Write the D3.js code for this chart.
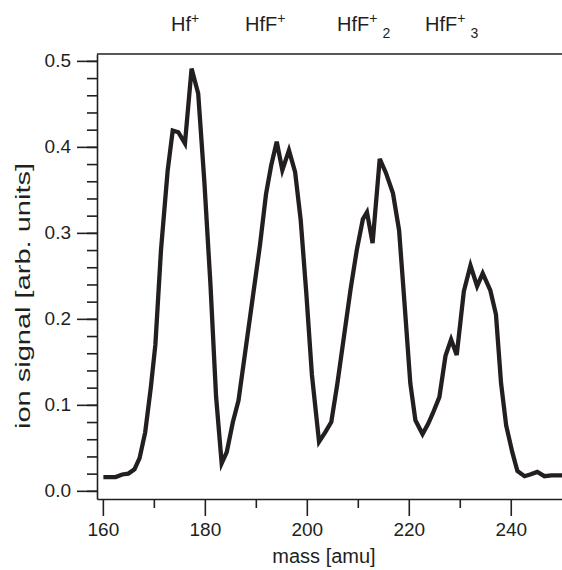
<!DOCTYPE html>
<html>
<head>
<meta charset="utf-8">
<script src="https://cdn.jsdelivr.net/npm/d3@7"></script>
<style>
  body { margin: 0; background: #fff; }
  text { font-family: "Liberation Sans", Arial, sans-serif; fill: #231f20; }
</style>
</head>
<body>
<div id="chart"></div>
<script>
/* DATA */
var mass = [160.1, 161.3, 162.5, 163.8, 165.0, 166.2, 167.2, 168.3, 169.4, 170.3,
    171.4, 172.7, 173.7, 174.8, 176.1, 177.4, 178.7, 179.9, 181.1, 182.2,
    183.3, 184.3, 185.5, 186.6, 188.0, 189.4, 190.8, 192.0, 193.0, 194.1,
    195.2, 196.5, 197.7, 198.8, 199.9, 201.0, 202.4, 203.6, 204.8, 206.0,
    207.3, 208.6, 209.8, 211.0, 211.8, 212.9, 214.3, 215.5, 216.9, 218.1,
    219.2, 220.3, 221.3, 222.7, 223.8, 224.7, 226.0, 227.2, 228.3, 229.4,
    230.8, 232.1, 233.4, 234.5, 236.0, 237.1, 238.1, 239.1, 240.3, 241.3,
    242.7, 243.8, 245.2, 246.6, 248.0, 249.3, 250.5];
var signal = [0.016, 0.016, 0.016, 0.019, 0.020, 0.025, 0.038, 0.068, 0.120, 0.170,
    0.280, 0.372, 0.419, 0.417, 0.404, 0.491, 0.462, 0.360, 0.240, 0.110,
    0.032, 0.045, 0.080, 0.105, 0.165, 0.225, 0.285, 0.345, 0.378, 0.406,
    0.373, 0.396, 0.371, 0.315, 0.230, 0.135, 0.057, 0.068, 0.080, 0.125,
    0.180, 0.235, 0.280, 0.316, 0.324, 0.288, 0.386, 0.370, 0.346, 0.303,
    0.215, 0.125, 0.082, 0.066, 0.078, 0.090, 0.109, 0.157, 0.176, 0.158,
    0.232, 0.262, 0.238, 0.253, 0.233, 0.205, 0.125, 0.076, 0.045, 0.023,
    0.017, 0.019, 0.022, 0.017, 0.018, 0.018, 0.018];

var yMajor = [0, 0.1, 0.2, 0.3, 0.4, 0.5];
var yMinor = d3.range(0, 0.501, 0.02);
var xMajor = [160, 180, 200, 220, 240];
var xMinor = [170, 190, 210, 230];

// peak labels: base text, superscript, subscript
var peakLabels = [
    { base: "Hf", sup: "+", sub: "" },
    { base: "HfF", sup: "+", sub: "" },
    { base: "HfF", sup: "+", sub: "2" },
    { base: "HfF", sup: "+", sub: "3" }
];
var peakLabelX = [171, 245, 337, 425];

var data = mass.map(function(m, i) { return { mass: m, signal: signal[i] }; });

/* SVG */
var width = 562, height = 570;
var margin = { top: 54, right: 0, bottom: 71, left: 97 };
var ink = "#231f20";

var svg = d3.select("#chart")
    .append("svg")
    .attr("width", width)
    .attr("height", height);

var x = d3.scaleLinear()
    .domain([158.85, 250.05])
    .range([margin.left, width - margin.right]);

var y = d3.scaleLinear()
    .domain([-0.0095, 0.508])
    .range([height - margin.bottom, margin.top]);

/* AXES */
// minor ticks first, without domain line
svg.append("g")
    .attr("transform", "translate(" + margin.left + ",0)")
    .call(d3.axisLeft(y).tickValues(yMinor).tickSize(10).tickFormat(""))
    .call(function(g) { g.select(".domain").remove(); });

svg.append("g")
    .attr("transform", "translate(" + margin.left + ",0)")
    .call(d3.axisLeft(y).tickValues(yMajor).tickSize(20).tickSizeOuter(0).tickPadding(6)
        .tickFormat(d3.format(".1f")))
    .call(function(g) { g.selectAll("text").style("font-size", "19px"); });

svg.append("g")
    .attr("transform", "translate(0," + (height - margin.bottom) + ")")
    .call(d3.axisBottom(x).tickValues(xMinor).tickSize(9).tickFormat(""))
    .call(function(g) { g.select(".domain").remove(); });

svg.append("g")
    .attr("transform", "translate(0," + (height - margin.bottom) + ")")
    .call(d3.axisBottom(x).tickValues(xMajor).tickSize(17).tickSizeOuter(0).tickPadding(7))
    .call(function(g) { g.selectAll("text").style("font-size", "19px"); });

svg.selectAll(".domain, .tick line")
    .attr("stroke", ink)
    .attr("stroke-width", 1.6);

// top frame line
svg.append("line")
    .attr("x1", margin.left).attr("x2", width)
    .attr("y1", margin.top).attr("y2", margin.top)
    .attr("stroke", ink)
    .attr("stroke-width", 1.6);

/* LINE */
svg.append("clipPath")
    .attr("id", "plotclip")
    .append("rect")
    .attr("x", margin.left).attr("y", margin.top)
    .attr("width", width - margin.left)
    .attr("height", height - margin.top - margin.bottom);

var line = d3.line()
    .x(function(d) { return x(d.mass); })
    .y(function(d) { return y(d.signal); });

svg.append("path")
    .datum(data)
    .attr("clip-path", "url(#plotclip)")
    .attr("d", line)
    .attr("fill", "none")
    .attr("stroke", ink)
    .attr("stroke-width", 4.3)
    .attr("stroke-linejoin", "miter");

/* AXIS TITLES */
svg.append("text")
    .attr("x", 324)
    .attr("y", 563)
    .attr("text-anchor", "middle")
    .style("font-size", "20px")
    .text("mass [amu]");

// the title in the picture is drawn a little longer than its glyph size gives
svg.append("text")
    .attr("transform", "translate(30,296) rotate(-90)")
    .attr("text-anchor", "middle")
    .attr("textLength", 266)
    .attr("lengthAdjust", "spacingAndGlyphs")
    .style("font-size", "20px")
    .text("ion signal [arb. units]");

/* PEAK LABELS */
peakLabels.forEach(function(p, i) {
    var t = svg.append("text")
        .attr("x", peakLabelX[i])
        .attr("y", 31)
        .style("font-size", "20px");
    t.append("tspan").text(p.base);
    t.append("tspan").attr("dy", -8).style("font-size", "14px").text(p.sup);
    if (p.sub) {
        t.append("tspan").attr("dx", 5).attr("dy", 15).style("font-size", "14px").text(p.sub);
    }
});
</script>
</body>
</html>
